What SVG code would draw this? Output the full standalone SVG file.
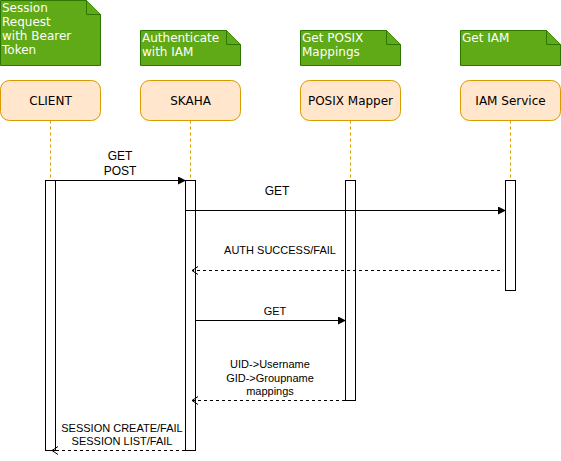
<svg xmlns="http://www.w3.org/2000/svg" width="561" height="461" viewBox="0 0 561 461">
<defs>
<marker id="fill" markerWidth="8" markerHeight="8" refX="7" refY="4" orient="auto" markerUnits="userSpaceOnUse"><path d="M0,0 L8,4 L0,8 Z" fill="#000"/></marker>
<marker id="open" markerWidth="8" markerHeight="10" refX="7" refY="5" orient="auto" markerUnits="userSpaceOnUse"><path d="M1,1 L7,5 L1,9" fill="none" stroke="#000" stroke-width="1"/></marker>
</defs>
<style>
.note{fill:#60a917;stroke:#2d7600;stroke-width:1}
.ntext{font-family:"DejaVu Sans",Verdana,sans-serif;font-size:12px;fill:#fff}
.life{fill:#ffe6cc;stroke:#d79b00;stroke-width:1}
.ltext{font-family:"DejaVu Sans",Verdana,sans-serif;font-size:12px;fill:#000;text-anchor:middle}
.dash{stroke:#d79b00;stroke-dasharray:3,3;fill:none}
.act{fill:#fff;stroke:#000;stroke-width:1}
.msg{stroke:#000;stroke-width:1;fill:none}
.ret{stroke:#000;stroke-width:1;fill:none;stroke-dasharray:3,3}
.lab{font-family:"Liberation Sans",Arial,sans-serif;font-size:11px;fill:#000;text-anchor:middle}
.lab12{font-family:"Liberation Sans",Arial,sans-serif;font-size:12px;fill:#000;text-anchor:middle}
</style>
<rect width="561" height="461" fill="#fff"/>
<g id="note-client">
<path class="note" d="M0.5,0.5 H86.5 L100.5,14.5 V65.5 H0.5 Z"/>
<path class="note" d="M86.5,0.5 V14.5 H100.5"/>
<text class="ntext" x="2" y="12">Session</text>
<text class="ntext" x="2" y="26">Request</text>
<text class="ntext" x="2" y="40">with Bearer</text>
<text class="ntext" x="2" y="54">Token</text>
</g>
<g id="note-skaha">
<path class="note" d="M140.5,30.5 H226.5 L240.5,44.5 V65.5 H140.5 Z"/>
<path class="note" d="M226.5,30.5 V44.5 H240.5"/>
<text class="ntext" x="142" y="42">Authenticate</text>
<text class="ntext" x="142" y="56">with IAM</text>
</g>
<g id="note-posix">
<path class="note" d="M300.5,30.5 H386.5 L400.5,44.5 V65.5 H300.5 Z"/>
<path class="note" d="M386.5,30.5 V44.5 H400.5"/>
<text class="ntext" x="302" y="42">Get POSIX</text>
<text class="ntext" x="302" y="56">Mappings</text>
</g>
<g id="note-iam">
<path class="note" d="M460.5,30.5 H546.5 L560.5,44.5 V65.5 H460.5 Z"/>
<path class="note" d="M546.5,30.5 V44.5 H560.5"/>
<text class="ntext" x="462" y="42">Get IAM</text>
</g>
<g id="client">
<rect class="life" x="0.5" y="80.5" width="100" height="40" rx="9"/>
<text class="ltext" x="50.5" y="104.5">CLIENT</text>
<line class="dash" x1="50.5" y1="120.5" x2="50.5" y2="180.5"/>
<rect class="act" x="45.5" y="180.5" width="10" height="270"/>
</g>
<g id="skaha">
<rect class="life" x="140.5" y="80.5" width="100" height="40" rx="9"/>
<text class="ltext" x="190.5" y="104.5">SKAHA</text>
<line class="dash" x1="190.5" y1="120.5" x2="190.5" y2="180.5"/>
<rect class="act" x="185.5" y="180.5" width="10" height="270"/>
</g>
<g id="posix">
<rect class="life" x="300.5" y="80.5" width="100" height="40" rx="9"/>
<text class="ltext" x="350.5" y="104.5">POSIX Mapper</text>
<line class="dash" x1="350.5" y1="120.5" x2="350.5" y2="180.5"/>
<rect class="act" x="345.5" y="180.5" width="10" height="220"/>
</g>
<g id="iam">
<rect class="life" x="460.5" y="80.5" width="100" height="40" rx="9"/>
<text class="ltext" x="510.5" y="104.5">IAM Service</text>
<line class="dash" x1="510.5" y1="120.5" x2="510.5" y2="180.5"/>
<rect class="act" x="505.5" y="180.5" width="10" height="110"/>
</g>
<g id="connectors">
<line class="msg" x1="55.5" y1="180.5" x2="185" y2="180.5" marker-end="url(#fill)"/>
<text class="lab12" x="120" y="160">GET</text>
<text class="lab12" x="120" y="175">POST</text>
<line class="msg" x1="185.5" y1="210.5" x2="505" y2="210.5" marker-end="url(#fill)"/>
<text class="lab12" x="277" y="195">GET</text>
<line class="ret" x1="500" y1="270.5" x2="192" y2="270.5" marker-end="url(#open)"/>
<text class="lab" x="280" y="254">AUTH SUCCESS/FAIL</text>
<line class="msg" x1="195.5" y1="320.5" x2="345" y2="320.5" marker-end="url(#fill)"/>
<text class="lab" x="275" y="315">GET</text>
<line class="ret" x1="345" y1="400.5" x2="192" y2="400.5" marker-end="url(#open)"/>
<text class="lab" x="270" y="368">UID-&gt;Username</text>
<text class="lab" x="270" y="382">GID-&gt;Groupname</text>
<text class="lab" x="270" y="395">mappings</text>
<line class="ret" x1="185" y1="450.5" x2="52" y2="450.5" marker-end="url(#open)"/>
<text class="lab" x="122" y="432">SESSION CREATE/FAIL</text>
<text class="lab" x="122" y="445">SESSION LIST/FAIL</text>
</g>
</svg>
